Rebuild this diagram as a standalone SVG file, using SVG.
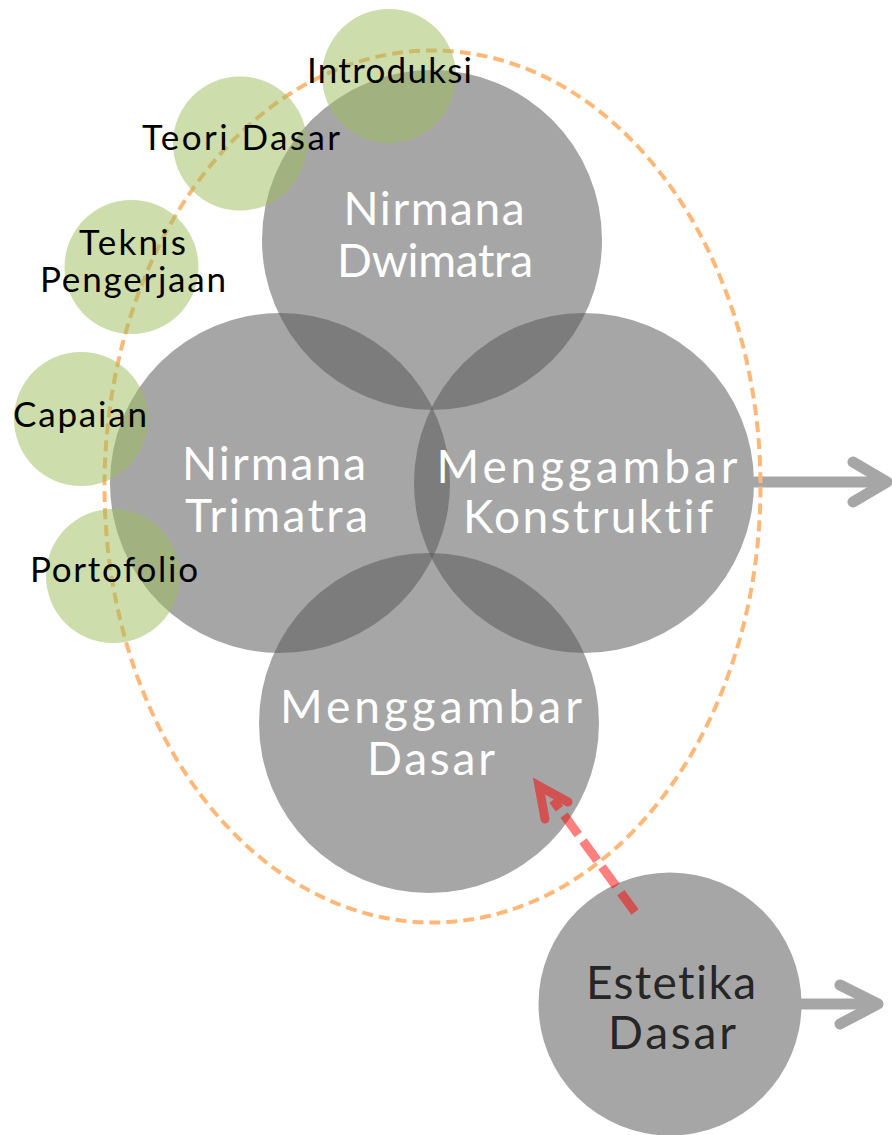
<svg xmlns="http://www.w3.org/2000/svg" width="892" height="1135" viewBox="0 0 892 1135">
<defs>
<style>
.big{fill:#575757;fill-opacity:0.53}
.grn{fill:#9bbb59;fill-opacity:0.5}
text{font-family:Lato,"Open Sans",sans-serif;text-anchor:middle;font-variant-ligatures:none}
.wt{font-size:46px;fill:#ffffff}
.dk{font-size:46px;fill:#262626}
.bk{font-size:35px;fill:#000000}
.garrow{fill:none;stroke:#a6a6a6;stroke-width:11;stroke-linecap:round;stroke-linejoin:round}
</style>
</defs>
<rect width="892" height="1135" fill="#ffffff"/>
<g id="node-nirmana-dwimatra"><circle class="big" cx="432" cy="240" r="170"/></g>
<g id="node-nirmana-trimatra"><circle class="big" cx="280" cy="483" r="170"/></g>
<g id="node-menggambar-konstruktif"><circle class="big" cx="584" cy="483" r="170"/></g>
<g id="node-menggambar-dasar"><circle class="big" cx="429" cy="723" r="170"/></g>
<g id="node-estetika-dasar"><circle class="big" cx="670" cy="1004" r="131.5"/></g>
<g id="connectors">
<g id="arrow-konstruktif-out">
<line class="garrow" x1="755" y1="482" x2="884" y2="482"/>
<polyline class="garrow" points="853,462 887,482 853,502"/>
</g>
<g id="arrow-estetika-out">
<line class="garrow" x1="801" y1="1004" x2="876" y2="1004"/>
<polyline class="garrow" points="840,985 878,1004 840,1024"/>
</g>
</g>
<g id="group-boundary"><ellipse cx="432.5" cy="486.5" rx="328" ry="436" fill="none" stroke="#ffb877" stroke-width="4" stroke-dasharray="11 6"/></g>
<g id="node-introduksi"><circle class="grn" cx="389" cy="76" r="67"/></g>
<g id="node-teori-dasar"><circle class="grn" cx="240" cy="143.5" r="67"/></g>
<g id="node-teknis-pengerjaan"><circle class="grn" cx="131.5" cy="267" r="67"/></g>
<g id="node-capaian"><circle class="grn" cx="81" cy="419" r="67"/></g>
<g id="node-portofolio"><circle class="grn" cx="113" cy="576" r="67"/></g>
<g id="connector-estetika-to-dasar" opacity="0.5">
<line x1="635" y1="912" x2="553" y2="800" stroke="#ff0000" stroke-width="9" stroke-dasharray="24 8"/>
<polyline points="568,802 539,786 545,819" fill="none" stroke="#ff0000" stroke-width="9" stroke-linecap="round" stroke-linejoin="miter"/>
</g>
<g id="labels">
<text class="wt" x="434" y="225" textLength="181">Nirmana</text>
<text class="wt" x="435" y="277" textLength="196">Dwimatra</text>
<text class="wt" x="274" y="480" textLength="184">Nirmana</text>
<text class="wt" x="276.5" y="532" textLength="183">Trimatra</text>
<text class="wt" x="587" y="483" textLength="301">Menggambar</text>
<text class="wt" x="588" y="533" textLength="250">Konstruktif</text>
<text class="wt" x="431" y="723" textLength="302">Menggambar</text>
<text class="wt" x="431" y="775" textLength="128">Dasar</text>
<text class="dk" x="671" y="999" textLength="170">Estetika</text>
<text class="dk" x="672" y="1049" textLength="128">Dasar</text>
<text class="bk" x="389.5" y="83" textLength="165">Introduksi</text>
<text class="bk" x="241" y="150" textLength="198">Teori Dasar</text>
<text class="bk" x="132.5" y="255" textLength="107">Teknis</text>
<text class="bk" x="133" y="292" textLength="186">Pengerjaan</text>
<text class="bk" x="80" y="427" textLength="134">Capaian</text>
<text class="bk" x="114" y="582" textLength="168">Portofolio</text>
</g>
</svg>
